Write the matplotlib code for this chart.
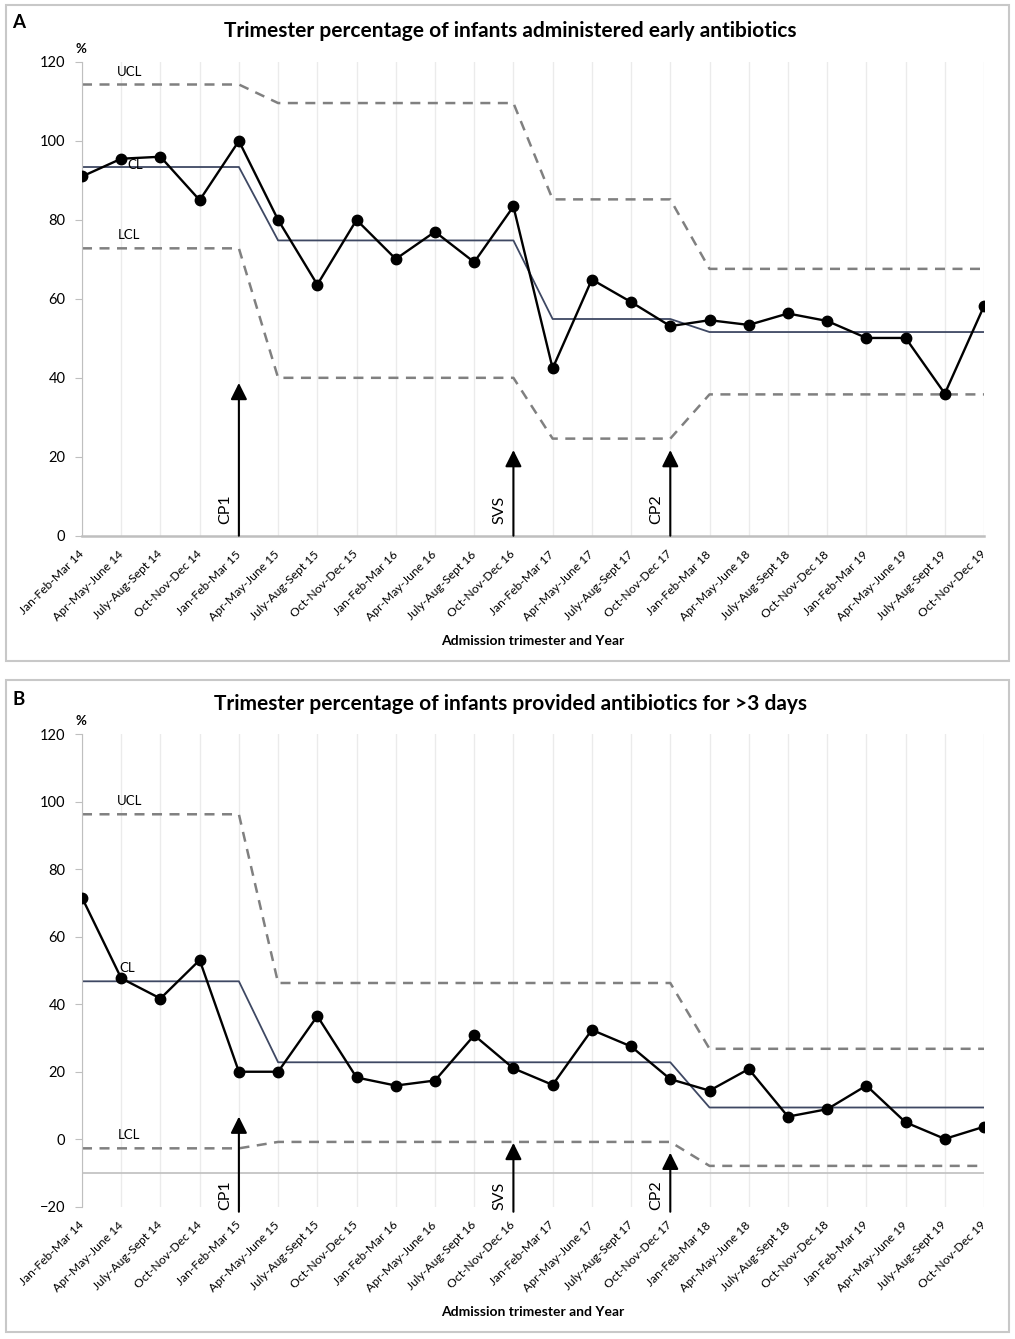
import numpy as np
import matplotlib.pyplot as plt
from matplotlib.patches import Rectangle

plt.rcParams['font.family'] = ['Lato', 'DejaVu Sans']

categories = ['Jan-Feb-Mar 14', 'Apr-May-June 14', 'July-Aug-Sept 14', 'Oct-Nov-Dec 14',
              'Jan-Feb-Mar 15', 'Apr-May-June 15', 'July-Aug-Sept 15', 'Oct-Nov-Dec 15',
              'Jan-Feb-Mar 16', 'Apr-May-June 16', 'July-Aug-Sept 16', 'Oct-Nov-Dec 16',
              'Jan-Feb-Mar 17', 'Apr-May-June 17', 'July-Aug-Sept 17', 'Oct-Nov-Dec 17',
              'Jan-Feb-Mar 18', 'Apr-May-June 18', 'July-Aug-Sept 18', 'Oct-Nov-Dec 18',
              'Jan-Feb-Mar 19', 'Apr-May-June 19', 'July-Aug-Sept 19', 'Oct-Nov-Dec 19']

# panel A: early antibiotics
pct_early = [91.0, 95.5, 96.0, 85.0, 100.0, 80.0, 63.6, 80.0, 70.1, 77.0, 69.3, 83.4,
             42.4, 64.9, 59.2, 53.1, 54.6, 53.4, 56.3, 54.4, 50.1, 50.1, 36.0, 58.2]
cl_early = [93.4, 93.4, 93.4, 93.4, 93.4, 74.8, 74.8, 74.8, 74.8, 74.8, 74.8, 74.8,
            54.9, 54.9, 54.9, 54.9, 51.6, 51.6, 51.6, 51.6, 51.6, 51.6, 51.6, 51.6]
ucl_early = [114.3, 114.3, 114.3, 114.3, 114.3, 109.6, 109.6, 109.6, 109.6, 109.6, 109.6, 109.6,
             85.2, 85.2, 85.2, 85.2, 67.6, 67.6, 67.6, 67.6, 67.6, 67.6, 67.6, 67.6]
lcl_early = [72.8, 72.8, 72.8, 72.8, 72.8, 40.0, 40.0, 40.0, 40.0, 40.0, 40.0, 40.0,
             24.6, 24.6, 24.6, 24.6, 35.8, 35.8, 35.8, 35.8, 35.8, 35.8, 35.8, 35.8]

# panel B: antibiotics > 3 days
pct_long = [71.6, 47.7, 41.7, 53.1, 20.0, 20.0, 36.5, 18.3, 15.9, 17.4, 30.8, 21.0,
            16.1, 32.4, 27.5, 17.8, 14.4, 20.8, 6.7, 8.9, 15.9, 5.0, 0.1, 3.7]
cl_long = [46.8, 46.8, 46.8, 46.8, 46.8, 22.8, 22.8, 22.8, 22.8, 22.8, 22.8, 22.8,
           22.8, 22.8, 22.8, 22.8, 9.4, 9.4, 9.4, 9.4, 9.4, 9.4, 9.4, 9.4]
ucl_long = [96.3, 96.3, 96.3, 96.3, 96.3, 46.3, 46.3, 46.3, 46.3, 46.3, 46.3, 46.3,
            46.3, 46.3, 46.3, 46.3, 26.8, 26.8, 26.8, 26.8, 26.8, 26.8, 26.8, 26.8]
lcl_long = [-2.7, -2.7, -2.7, -2.7, -2.7, -0.8, -0.8, -0.8, -0.8, -0.8, -0.8, -0.8,
            -0.8, -0.8, -0.8, -0.8, -7.9, -7.9, -7.9, -7.9, -7.9, -7.9, -7.9, -7.9]

event_idx = [4, 11, 15]
event_names = ['CP1', 'SVS', 'CP2']
event_tip_a = [38.7, 21.7, 21.7]
event_tip_b = [6.7, -1.1, -4.0]

x = np.arange(len(categories))
GRAY = '#BFBFBF'


def draw_panel(ax, vals, cl, ucl, lcl, ymin, tips, base, txt_base, lbl_pos, title):
    ax.set_xlim(0, len(categories) - 1)
    ax.set_ylim(ymin, 120)
    ax.set_yticks(np.arange(ymin, 121, 20))
    ax.set_xticks(x)
    ax.set_xticklabels(categories, rotation=45, ha='right', va='center',
                       rotation_mode='anchor', fontsize=8.7)
    ax.tick_params(axis='x', length=0, pad=12)
    ax.tick_params(axis='y', length=5, color=GRAY, labelsize=10.5, pad=7)
    ax.grid(axis='x', color='#EBEBEB', lw=1)
    ax.set_axisbelow(True)
    for s in ['top', 'right']:
        ax.spines[s].set_visible(False)
    ax.spines['left'].set_color(GRAY)
    if ymin < 0:
        ax.spines['bottom'].set_visible(False)
        ax.axhline(-10, color=GRAY, lw=1.2, zorder=1)
    else:
        ax.spines['bottom'].set_color(GRAY)
        ax.spines['bottom'].set_linewidth(1.8)

    ax.plot(x, ucl, color='#808080', lw=1.8, dashes=(4, 3))
    ax.plot(x, lcl, color='#808080', lw=1.8, dashes=(4, 3))
    ax.plot(x, cl, color='#3E4863', lw=1.3)
    ax.plot(x, vals, color='black', lw=1.7, marker='o', ms=7.5, zorder=4)

    for name, p in zip(['UCL', 'CL', 'LCL'], lbl_pos):
        ax.text(p[0], p[1], name, fontsize=9.5, ha='center', va='center', zorder=5)

    for i, name, tip in zip(event_idx, event_names, tips):
        ax.annotate('', xy=(i, tip), xytext=(i, base),
                    arrowprops=dict(arrowstyle='-|>,head_length=1.0,head_width=0.5',
                                    color='black', lw=1.5, shrinkA=0, shrinkB=0),
                    annotation_clip=False, zorder=5)
        ax.annotate(name, xy=(i, txt_base), xytext=(-5, 0), textcoords='offset points',
                    rotation=90, ha='right', va='bottom', fontsize=11.5,
                    annotation_clip=False)

    ax.set_xlabel('Admission trimester and Year', fontsize=10, fontweight='bold', labelpad=9)
    ax.text(-0.001, 1.015, '%', transform=ax.transAxes, fontsize=9.5,
            fontweight='bold', ha='center', va='bottom')
    ax.text(0.475, 1.065, title, transform=ax.transAxes, fontsize=15,
            fontweight='bold', ha='center', va='center')


fig = plt.figure(figsize=(10.15, 13.39), dpi=100)
ax_a = fig.add_axes([0.0808, 0.5999, 0.8887, 0.3538])
ax_b = fig.add_axes([0.0808, 0.0988, 0.8887, 0.3528])

draw_panel(ax_a, pct_early, cl_early, ucl_early, lcl_early, 0, event_tip_a, 0, 3,
           [(1.22, 117.4), (1.35, 93.8), (1.2, 76.1)],
           'Trimester percentage of infants administered early antibiotics')
draw_panel(ax_b, pct_long, cl_long, ucl_long, lcl_long, -20, event_tip_b, -21.5, -21,
           [(1.22, 100.2), (1.15, 50.7), (1.2, 1.3)],
           'Trimester percentage of infants provided antibiotics for >3 days')

# panel frames and letters
for y0, h in [(5, 656), (680, 652)]:
    fig.patches.append(Rectangle((6 / 1015, 1 - (y0 + h) / 1339), 1003 / 1015, h / 1339,
                                 transform=fig.transFigure, fill=False,
                                 edgecolor='#C8C8C8', lw=1.5))
fig.text(12 / 1015, 1 - 22 / 1339, 'A', fontsize=13.5, fontweight='bold', ha='left', va='center')
fig.text(12 / 1015, 1 - 700 / 1339, 'B', fontsize=13.5, fontweight='bold', ha='left', va='center')

fig.savefig('out.png', dpi=100)
